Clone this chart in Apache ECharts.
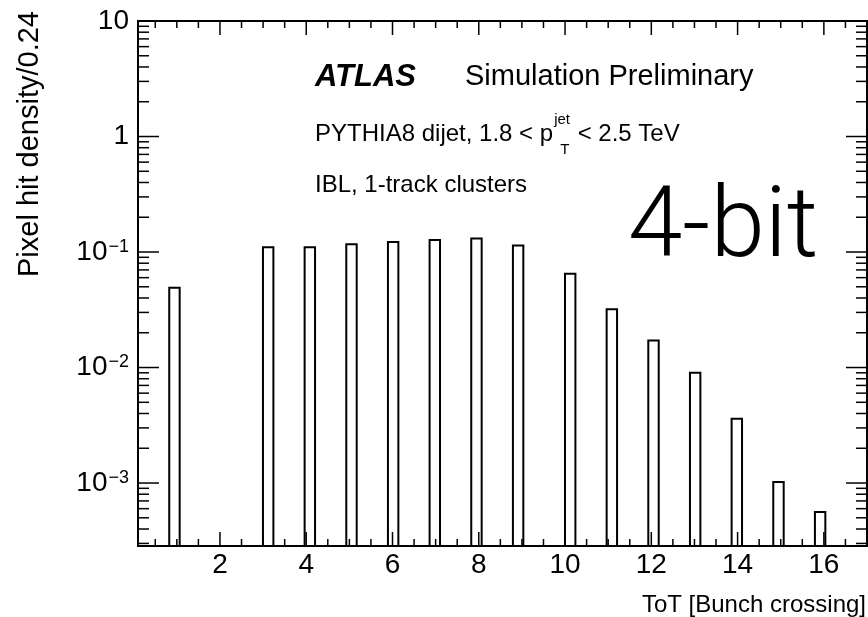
<!DOCTYPE html>
<html>
<head>
<meta charset="utf-8">
<script src="https://cdn.jsdelivr.net/npm/echarts@6/dist/echarts.min.js"></script>
<style>
html,body{margin:0;padding:0;background:#fff;}
#c{width:868px;height:617px;}
</style>
</head>
<body>
<div id="c"></div>
<script>
// ---- data ----
const tot = [1, 3, 4, 5, 6, 7, 8, 9, 10, 11, 12, 13, 14, 15, 16];
const density = [0.049, 0.110, 0.110, 0.117, 0.122, 0.127, 0.131, 0.114, 0.065, 0.032, 0.0171, 0.0090, 0.0036, 0.00102, 0.00056];
const xRange = [0.1, 17];
const nBins = 70;
const yRange = [2.85e-4, 10];
const xLabelTicks = [2, 4, 6, 8, 10, 12, 14, 16];
const xMinorStep = 0.5;
const yDecades = [-4, -3, -2, -1, 0, 1];
const minorMult = [2, 3, 4, 5, 6, 7, 8, 9];
const xTitle = 'ToT [Bunch crossing]';
const yTitle = 'Pixel hit density/0.24';

const FONT = '"Liberation Sans", Arial, Helvetica, sans-serif';

// histogram bins
const binW = (xRange[1] - xRange[0]) / nBins;
const barData = tot.map((t, i) => {
  const k = Math.floor((t - xRange[0]) / binW);
  return [xRange[0] + k * binW, xRange[0] + (k + 1) * binW, density[i]];
});

// tick definitions [x, y, length, isX]
const tickData = [];
for (let v = xMinorStep; v < xRange[1] - 1e-9; v += xMinorStep) {
  const r = Math.round(v * 1000) / 1000;
  const major = xLabelTicks.includes(r);
  tickData.push([r, yRange[0], major ? 14 : 7, 1]);
}
yDecades.forEach(d => {
  const p = Math.pow(10, d);
  if (p > yRange[0] && p < yRange[1]) tickData.push([xRange[0], p, 21, 0]);
  minorMult.forEach(m => {
    const v = m * p;
    if (v > yRange[0] && v < yRange[1]) tickData.push([xRange[0], v, 11, 0]);
  });
});

// text measurement
const mctx = document.createElement('canvas').getContext('2d');
function tw(str, size, weight, style) {
  mctx.font = (style || 'normal') + ' ' + (weight || 'normal') + ' ' + size + 'px ' + FONT;
  return mctx.measureText(str).width;
}

const pyPart1 = 'PYTHIA8 dijet, 1.8 < p';
const pyPart2 = ' < 2.5 TeV';
const pyX = 315;
const supX = pyX + tw(pyPart1, 24) + 1;
const supW = tw('jet', 15);

const chart = echarts.init(document.getElementById('c'), null, {renderer: 'canvas'});

const txt = (x, y, text, size, extra) => Object.assign({
  type: 'text', x: x, y: y, silent: true,
  style: Object.assign({text: text, fontSize: size, fontFamily: FONT, fill: '#000',
    textAlign: 'left', textVerticalAlign: 'middle', verticalAlign: 'middle'}, (extra && extra.style) || {})
}, extra && extra.el || {});

const option = {
  animation: false,
  backgroundColor: '#fff',
  grid: {left: 138, top: 21, right: 1, bottom: 71, show: true, borderColor: '#000', borderWidth: 2, backgroundColor: 'transparent', containLabel: false},
  xAxis: {
    type: 'value', min: xRange[0], max: xRange[1],
    axisLine: {show: false}, axisTick: {show: false}, splitLine: {show: false},
    axisLabel: {
      customValues: xLabelTicks,
      fontSize: 28, fontFamily: FONT, color: '#000', margin: 5,
      formatter: v => xLabelTicks.includes(Math.round(v * 1000) / 1000) ? String(Math.round(v)) : ''
    }
  },
  yAxis: {
    type: 'log', logBase: 10, min: yRange[0], max: yRange[1],
    axisLine: {show: false}, axisTick: {show: false}, splitLine: {show: false}, minorTick: {show: false},
    axisLabel: {
      margin: 9, fontFamily: FONT, color: '#000',
      formatter: v => {
        const l = Math.log10(v);
        const e = Math.round(l);
        if (Math.abs(l - e) > 1e-6) return '';
        if (e === 0) return '{b|1}';
        if (e === 1) return '{b|10}';
        return '{b|10}{s|\u2212' + (-e) + '}';
      },
      rich: {
        b: {fontSize: 28, fontFamily: FONT, color: '#000'},
        s: {fontSize: 18, fontFamily: FONT, color: '#000', verticalAlign: 'top', padding: [0, 0, 0, 1]}
      }
    }
  },
  series: [
    {
      type: 'custom', silent: true, clip: false, z: 3,
      data: barData,
      encode: {x: [0, 1], y: 2},
      renderItem: (params, api) => {
        const tl = api.coord([api.value(0), api.value(2)]);
        const br = api.coord([api.value(1), yRange[0]]);
        return {type: 'rect', shape: {x: tl[0], y: tl[1], width: br[0] - tl[0], height: br[1] - tl[1]},
          style: {fill: 'rgba(255,255,255,0)', stroke: '#000', lineWidth: 2}};
      }
    },
    {
      type: 'custom', silent: true, clip: false, z: 4,
      data: tickData,
      encode: {x: 0, y: 1},
      renderItem: (params, api) => {
        const isX = api.value(3) === 1;
        const len = api.value(2);
        const st = {stroke: '#000', lineWidth: 1.5};
        if (isX) {
          const v = api.value(0);
          const b = api.coord([v, yRange[0]]);
          const t = api.coord([v, yRange[1]]);
          return {type: 'group', children: [
            {type: 'line', shape: {x1: b[0], y1: b[1], x2: b[0], y2: b[1] - len}, style: st},
            {type: 'line', shape: {x1: t[0], y1: t[1], x2: t[0], y2: t[1] + len}, style: st}
          ]};
        }
        const v = api.value(1);
        const l = api.coord([xRange[0], v]);
        const r = api.coord([xRange[1], v]);
        return {type: 'group', children: [
          {type: 'line', shape: {x1: l[0], y1: l[1], x2: l[0] + len, y2: l[1]}, style: st},
          {type: 'line', shape: {x1: r[0], y1: r[1], x2: r[0] - len, y2: r[1]}, style: st}
        ]};
      }
    }
  ],
  graphic: [
    txt(315, 77, 'ATLAS', 31, {style: {fontWeight: 'bold', fontStyle: 'italic'}}),
    txt(465, 77, 'Simulation Preliminary', 29),
    txt(pyX, 134, pyPart1, 24),
    txt(supX, 120, 'jet', 15),
    txt(supX + 6, 150, 'T', 15),
    txt(supX + supW + 1, 134, pyPart2, 24),
    txt(315, 185, 'IBL, 1-track clusters', 24),
    txt(628, 231, '4-bit', 98, {style: {fontFamily: 'Roboto, ' + FONT, fontWeight: 300}}),
    txt(866, 605, xTitle, 24, {style: {textAlign: 'right'}}),
    txt(30, 11, yTitle, 29, {style: {textAlign: 'right'}, el: {rotation: Math.PI / 2}})
  ]
};

chart.setOption(option);
</script>
</body>
</html>
